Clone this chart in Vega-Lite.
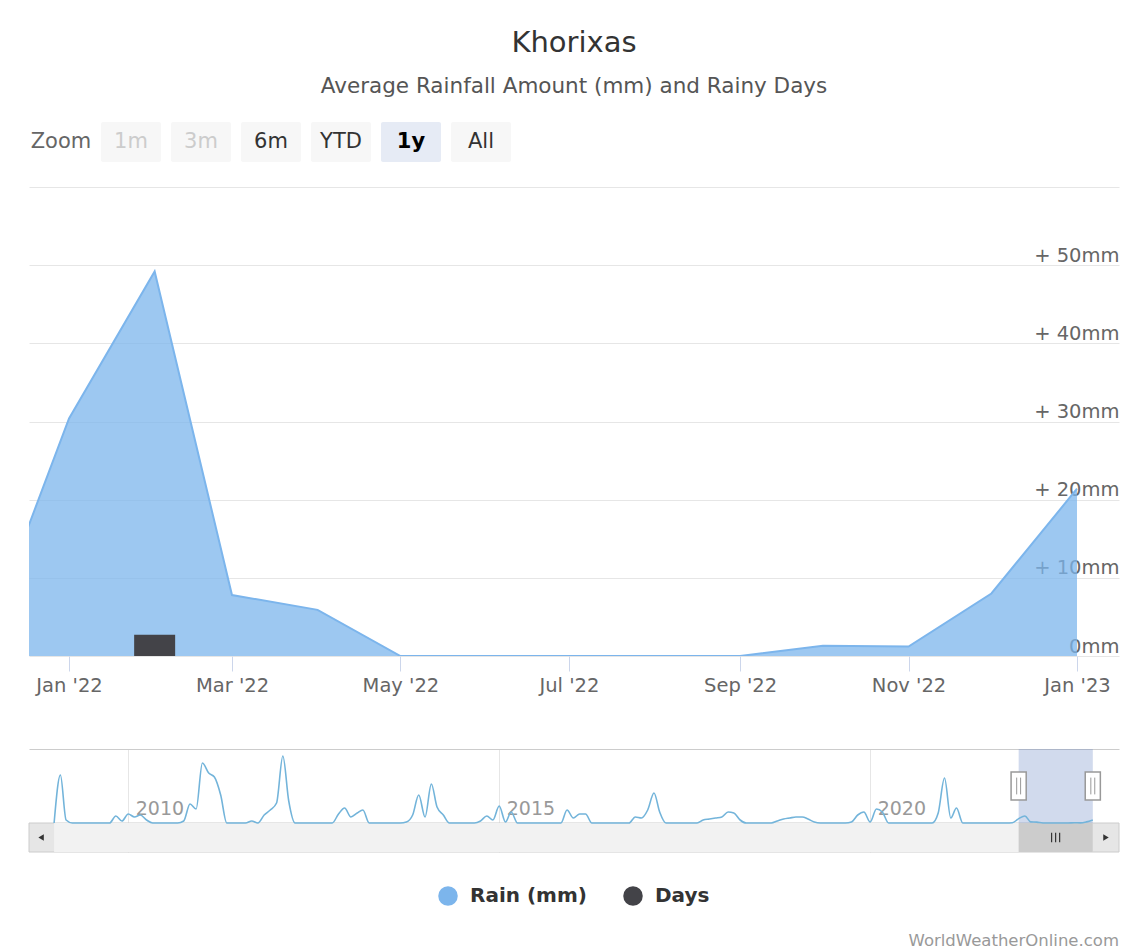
{
  "$schema": "https://vega.github.io/schema/vega-lite/v6.json",
  "padding": {"left": 28, "top": 28, "right": 12, "bottom": 0},
  "background": "white",
  "title": {
    "text": "Khorixas",
    "subtitle": "Average Rainfall Amount (mm) and Rainy Days",
    "anchor": "middle",
    "frame": "bounds",
    "font": "DejaVu Sans",
    "subtitleFont": "DejaVu Sans",
    "fontSize": 29,
    "fontWeight": "normal",
    "color": "#333333",
    "subtitleFontSize": 21.5,
    "subtitleColor": "#555555",
    "subtitlePadding": 18,
    "offset": 25
  },
  "datasets": {
    "buttons": [
      {"label": "Zoom", "state": "label"},
      {"label": "1m", "state": "disabled"},
      {"label": "3m", "state": "disabled"},
      {"label": "6m", "state": "normal"},
      {"label": "YTD", "state": "normal"},
      {"label": "1y", "state": "selected"},
      {"label": "All", "state": "normal"}
    ],
    "monthly": [
      {"date": "2021-12-01", "rain": 1.3, "days": 0},
      {"date": "2022-01-01", "rain": 30.4, "days": 0},
      {"date": "2022-02-01", "rain": 49.2, "days": 1},
      {"date": "2022-03-01", "rain": 7.8, "days": 0},
      {"date": "2022-04-01", "rain": 5.9, "days": 0},
      {"date": "2022-05-01", "rain": 0, "days": 0},
      {"date": "2022-06-01", "rain": 0, "days": 0},
      {"date": "2022-07-01", "rain": 0, "days": 0},
      {"date": "2022-08-01", "rain": 0, "days": 0},
      {"date": "2022-09-01", "rain": 0, "days": 0},
      {"date": "2022-10-01", "rain": 1.3, "days": 0},
      {"date": "2022-11-01", "rain": 1.2, "days": 0},
      {"date": "2022-12-01", "rain": 8.0, "days": 0},
      {"date": "2023-01-01", "rain": 21.4, "days": 0}
    ],
    "ranges": [
      {"part": "track", "start": "2009-01-01", "end": "2023-01-01"},
      {"part": "thumb", "start": "2022-01-01", "end": "2023-01-01"}
    ],
    "series": [
      {"series": "Rain (mm)"},
      {"series": "Days"}
    ],
    "nav": [
      {"date": "2009-01-01", "rain": 0}, {"date": "2009-02-01", "rain": 336}, {"date": "2009-03-01", "rain": 21}, {"date": "2009-04-01", "rain": 0},
      {"date": "2009-05-01", "rain": 0}, {"date": "2009-06-01", "rain": 0}, {"date": "2009-07-01", "rain": 0}, {"date": "2009-08-01", "rain": 0},
      {"date": "2009-09-01", "rain": 0}, {"date": "2009-10-01", "rain": 0}, {"date": "2009-11-01", "rain": 49}, {"date": "2009-12-01", "rain": 14},
      {"date": "2010-01-01", "rain": 63}, {"date": "2010-02-01", "rain": 42}, {"date": "2010-03-01", "rain": 56}, {"date": "2010-04-01", "rain": 21},
      {"date": "2010-05-01", "rain": 0}, {"date": "2010-06-01", "rain": 0}, {"date": "2010-07-01", "rain": 0}, {"date": "2010-08-01", "rain": 0},
      {"date": "2010-09-01", "rain": 0}, {"date": "2010-10-01", "rain": 14}, {"date": "2010-11-01", "rain": 133}, {"date": "2010-12-01", "rain": 98},
      {"date": "2011-01-01", "rain": 420}, {"date": "2011-02-01", "rain": 350}, {"date": "2011-03-01", "rain": 322}, {"date": "2011-04-01", "rain": 196},
      {"date": "2011-05-01", "rain": 0}, {"date": "2011-06-01", "rain": 0}, {"date": "2011-07-01", "rain": 0}, {"date": "2011-08-01", "rain": 0},
      {"date": "2011-09-01", "rain": 14}, {"date": "2011-10-01", "rain": 0}, {"date": "2011-11-01", "rain": 56}, {"date": "2011-12-01", "rain": 91},
      {"date": "2012-01-01", "rain": 140}, {"date": "2012-02-01", "rain": 469}, {"date": "2012-03-01", "rain": 154}, {"date": "2012-04-01", "rain": 0},
      {"date": "2012-05-01", "rain": 0}, {"date": "2012-06-01", "rain": 0}, {"date": "2012-07-01", "rain": 0}, {"date": "2012-08-01", "rain": 0},
      {"date": "2012-09-01", "rain": 0}, {"date": "2012-10-01", "rain": 0}, {"date": "2012-11-01", "rain": 63}, {"date": "2012-12-01", "rain": 105},
      {"date": "2013-01-01", "rain": 42}, {"date": "2013-02-01", "rain": 70}, {"date": "2013-03-01", "rain": 91}, {"date": "2013-04-01", "rain": 0},
      {"date": "2013-05-01", "rain": 0}, {"date": "2013-06-01", "rain": 0}, {"date": "2013-07-01", "rain": 0}, {"date": "2013-08-01", "rain": 0},
      {"date": "2013-09-01", "rain": 0}, {"date": "2013-10-01", "rain": 7}, {"date": "2013-11-01", "rain": 56}, {"date": "2013-12-01", "rain": 196},
      {"date": "2014-01-01", "rain": 42}, {"date": "2014-02-01", "rain": 273}, {"date": "2014-03-01", "rain": 112}, {"date": "2014-04-01", "rain": 56},
      {"date": "2014-05-01", "rain": 0}, {"date": "2014-06-01", "rain": 0}, {"date": "2014-07-01", "rain": 0}, {"date": "2014-08-01", "rain": 0},
      {"date": "2014-09-01", "rain": 0}, {"date": "2014-10-01", "rain": 14}, {"date": "2014-11-01", "rain": 49}, {"date": "2014-12-01", "rain": 21},
      {"date": "2015-01-01", "rain": 119}, {"date": "2015-02-01", "rain": 7}, {"date": "2015-03-01", "rain": 77}, {"date": "2015-04-01", "rain": 0},
      {"date": "2015-05-01", "rain": 0}, {"date": "2015-06-01", "rain": 0}, {"date": "2015-07-01", "rain": 0}, {"date": "2015-08-01", "rain": 0},
      {"date": "2015-09-01", "rain": 0}, {"date": "2015-10-01", "rain": 0}, {"date": "2015-11-01", "rain": 0}, {"date": "2015-12-01", "rain": 91},
      {"date": "2016-01-01", "rain": 35}, {"date": "2016-02-01", "rain": 63}, {"date": "2016-03-01", "rain": 63}, {"date": "2016-04-01", "rain": 0},
      {"date": "2016-05-01", "rain": 0}, {"date": "2016-06-01", "rain": 0}, {"date": "2016-07-01", "rain": 0}, {"date": "2016-08-01", "rain": 0},
      {"date": "2016-09-01", "rain": 0}, {"date": "2016-10-01", "rain": 0}, {"date": "2016-11-01", "rain": 42}, {"date": "2016-12-01", "rain": 35},
      {"date": "2017-01-01", "rain": 91}, {"date": "2017-02-01", "rain": 210}, {"date": "2017-03-01", "rain": 77}, {"date": "2017-04-01", "rain": 0},
      {"date": "2017-05-01", "rain": 0}, {"date": "2017-06-01", "rain": 0}, {"date": "2017-07-01", "rain": 0}, {"date": "2017-08-01", "rain": 0},
      {"date": "2017-09-01", "rain": 0}, {"date": "2017-10-01", "rain": 21}, {"date": "2017-11-01", "rain": 28}, {"date": "2017-12-01", "rain": 35},
      {"date": "2018-01-01", "rain": 42}, {"date": "2018-02-01", "rain": 77}, {"date": "2018-03-01", "rain": 70}, {"date": "2018-04-01", "rain": 21},
      {"date": "2018-05-01", "rain": 0}, {"date": "2018-06-01", "rain": 0}, {"date": "2018-07-01", "rain": 0}, {"date": "2018-08-01", "rain": 0},
      {"date": "2018-09-01", "rain": 0}, {"date": "2018-10-01", "rain": 14}, {"date": "2018-11-01", "rain": 28}, {"date": "2018-12-01", "rain": 35},
      {"date": "2019-01-01", "rain": 42}, {"date": "2019-02-01", "rain": 42}, {"date": "2019-03-01", "rain": 28}, {"date": "2019-04-01", "rain": 7},
      {"date": "2019-05-01", "rain": 0}, {"date": "2019-06-01", "rain": 0}, {"date": "2019-07-01", "rain": 0}, {"date": "2019-08-01", "rain": 0},
      {"date": "2019-09-01", "rain": 0}, {"date": "2019-10-01", "rain": 7}, {"date": "2019-11-01", "rain": 56}, {"date": "2019-12-01", "rain": 77},
      {"date": "2020-01-01", "rain": 7}, {"date": "2020-02-01", "rain": 98}, {"date": "2020-03-01", "rain": 77}, {"date": "2020-04-01", "rain": 0},
      {"date": "2020-05-01", "rain": 0}, {"date": "2020-06-01", "rain": 0}, {"date": "2020-07-01", "rain": 0}, {"date": "2020-08-01", "rain": 0},
      {"date": "2020-09-01", "rain": 0}, {"date": "2020-10-01", "rain": 0}, {"date": "2020-11-01", "rain": 0}, {"date": "2020-12-01", "rain": 70},
      {"date": "2021-01-01", "rain": 315}, {"date": "2021-02-01", "rain": 35}, {"date": "2021-03-01", "rain": 105}, {"date": "2021-04-01", "rain": 0},
      {"date": "2021-05-01", "rain": 0}, {"date": "2021-06-01", "rain": 0}, {"date": "2021-07-01", "rain": 0}, {"date": "2021-08-01", "rain": 0},
      {"date": "2021-09-01", "rain": 0}, {"date": "2021-10-01", "rain": 0}, {"date": "2021-11-01", "rain": 0}, {"date": "2021-12-01", "rain": 1.3},
      {"date": "2022-01-01", "rain": 30.4}, {"date": "2022-02-01", "rain": 49.2}, {"date": "2022-03-01", "rain": 7.8}, {"date": "2022-04-01", "rain": 5.9},
      {"date": "2022-05-01", "rain": 0}, {"date": "2022-06-01", "rain": 0}, {"date": "2022-07-01", "rain": 0}, {"date": "2022-08-01", "rain": 0},
      {"date": "2022-09-01", "rain": 0}, {"date": "2022-10-01", "rain": 1.3}, {"date": "2022-11-01", "rain": 1.2}, {"date": "2022-12-01", "rain": 8.0},
      {"date": "2023-01-01", "rain": 21.4}
    ]
  },
  "vconcat": [
    {
      "width": 484,
      "height": 40,
      "data": {"name": "buttons"},
      "layer": [
        {
          "mark": {"type": "bar", "cornerRadius": 2},
          "encoding": {
            "x": {"field": "label", "type": "nominal", "sort": null, "scale": {"paddingInner": 0.1429, "paddingOuter": 0.0286}, "axis": null},
            "fill": {
              "condition": [
                {"test": "datum.state == 'selected'", "value": "#e6ebf5"},
                {"test": "datum.state == 'label'", "value": "transparent"}
              ],
              "value": "#f7f7f7"
            }
          }
        },
        {
          "transform": [{"filter": "datum.state != 'selected'"}],
          "mark": {"type": "text", "fontSize": 21, "fontWeight": "normal"},
          "encoding": {
            "x": {"field": "label", "type": "nominal", "sort": null, "axis": null},
            "text": {"field": "label"},
            "color": {
              "condition": [
                {"test": "datum.state == 'disabled'", "value": "#cccccc"},
                {"test": "datum.state == 'label'", "value": "#666666"}
              ],
              "value": "#333333"
            }
          }
        },
        {
          "transform": [{"filter": "datum.state == 'selected'"}],
          "mark": {"type": "text", "fontSize": 21, "fontWeight": "bold", "color": "#000000"},
          "encoding": {
            "x": {"field": "label", "type": "nominal", "sort": null, "axis": null},
            "text": {"field": "label"}
          }
        }
      ]
    },
    {
      "spacing": 54,
      "resolve": {"scale": {"color": "independent"}, "legend": {"color": "independent"}},
      "vconcat": [
        {
          "width": 1090,
          "height": 469,
          "data": {"name": "monthly"},
          "layer": [
            {
              "mark": {
                "type": "area",
                "clip": true,
                "color": "#7cb5ec",
                "fillOpacity": 0.75,
                "interpolate": "linear",
                "line": {"color": "#7cb5ec", "strokeWidth": 2}
              },
              "encoding": {
                "x": {
                  "field": "date",
                  "type": "temporal",
                  "scale": {
                    "type": "utc",
                    "padding": 0,
                    "domain": [
                      {"year": 2021, "month": 12, "date": 17, "hours": 12, "utc": true},
                      {"year": 2023, "month": 1, "date": 16, "hours": 5, "utc": true}
                    ]
                  },
                  "axis": {
                    "orient": "bottom",
                    "title": null,
                    "grid": false,
                    "domain": false,
                    "ticks": true,
                    "tickSize": 15,
                    "tickColor": "#ccd6eb",
                    "tickCount": {"interval": "month", "step": 2},
                    "labelExpr": "utcFormat(datum.value, \"%b '%y\")",
                    "labelFontSize": 19.5,
                    "labelColor": "#666666",
                    "labelPadding": 5,
                    "labelFlush": false,
                    "labelOverlap": false
                  }
                },
                "y": {
                  "field": "rain",
                  "type": "quantitative",
                  "scale": {"domain": [0, 60], "nice": false},
                  "axis": {
                    "orient": "right",
                    "title": null,
                    "values": [0, 10, 20, 30, 40, 50],
                    "grid": true,
                    "gridColor": "#e6e6e6",
                    "domain": false,
                    "ticks": false,
                    "tickSize": 0,
                    "labelAlign": "right",
                    "labelBaseline": "bottom",
                    "labelPadding": 0,
                    "labelOffset": 0,
                    "labelFontSize": 19.5,
                    "labelColor": "#666666",
                    "labelExpr": "datum.value == 0 ? '0mm' : '+ ' + datum.value + 'mm'"
                  }
                }
              }
            },
            {
              "mark": {"type": "bar", "color": "#434348", "width": 41, "clip": true},
              "encoding": {
                "x": {
                  "field": "date",
                  "type": "temporal",
                  "axis": {"orient": "top", "title": null, "domain": true, "domainColor": "#e6e6e6", "ticks": false, "labels": false, "grid": false}
                },
                "y": {"field": "days", "type": "quantitative", "scale": {"domain": [0, 22], "nice": false}, "axis": null}
              }
            }
          ],
          "resolve": {"scale": {"y": "independent"}, "axis": {"x": "independent", "y": "independent"}}
        },
        {
          "width": 1090,
          "height": 103,
          "title": {
            "text": "WorldWeatherOnline.com",
            "orient": "bottom",
            "anchor": "end",
            "frame": "group",
            "fontSize": 16.5,
            "fontWeight": "normal",
            "color": "#999999",
            "offset": 27
          },
          "layer": [
            {
              "data": {"name": "ranges"},
              "transform": [{"filter": "datum.part == 'track'"}],
              "mark": {"type": "rect", "fill": "#e6e6e6", "stroke": "#cccccc", "strokeWidth": 1},
              "encoding": {
                "y": {"datum": -203, "type": "quantitative", "scale": {"domain": [-203, 518], "nice": false, "zero": false}, "axis": null},
                "y2": {"datum": 0}
              }
            },
            {
              "data": {"name": "ranges"},
              "transform": [{"filter": "datum.part == 'track'"}],
              "mark": {"type": "rect", "fill": "#f2f2f2"},
              "encoding": {
                "x": {"field": "start", "type": "temporal", "axis": null},
                "x2": {"field": "end"},
                "y": {"datum": -203, "type": "quantitative", "axis": null},
                "y2": {"datum": 0}
              }
            },
            {
              "data": {"name": "ranges"},
              "transform": [{"filter": "datum.part == 'thumb'"}],
              "mark": {"type": "rect", "fill": "#cccccc"},
              "encoding": {
                "x": {"field": "start", "type": "temporal", "axis": null},
                "x2": {"field": "end"},
                "y": {"datum": -203, "type": "quantitative", "axis": null},
                "y2": {"datum": 0}
              }
            },
            {
              "data": {"name": "ranges"},
              "transform": [{"filter": "datum.part == 'thumb'"}],
              "mark": {"type": "point", "shape": "M-0.67,-0.8V0.8M0,-0.8V0.8M0.67,-0.8V0.8", "size": 144, "stroke": "#333333", "strokeWidth": 1.2, "filled": false, "opacity": 1},
              "encoding": {
                "x": {"datum": {"year": 2022, "month": 7, "date": 2, "utc": true}, "type": "temporal", "axis": null},
                "y": {"datum": -101.5, "type": "quantitative", "axis": null}
              }
            },
            {
              "data": {"name": "ranges"},
              "transform": [{"filter": "datum.part == 'track'"}],
              "mark": {"type": "point", "shape": "triangle-left", "size": 40, "fill": "#333333", "filled": true, "opacity": 1},
              "encoding": {
                "x": {"datum": {"year": 2008, "month": 10, "date": 29, "utc": true}, "type": "temporal", "axis": null},
                "y": {"datum": -101.5, "type": "quantitative", "axis": null}
              }
            },
            {
              "data": {"name": "ranges"},
              "transform": [{"filter": "datum.part == 'track'"}],
              "mark": {"type": "point", "shape": "triangle-right", "size": 40, "fill": "#333333", "filled": true, "opacity": 1},
              "encoding": {
                "x": {"datum": {"year": 2023, "month": 3, "date": 7, "utc": true}, "type": "temporal", "axis": null},
                "y": {"datum": -101.5, "type": "quantitative", "axis": null}
              }
            },
            {
              "data": {"name": "ranges"},
              "transform": [{"filter": "datum.part == 'thumb'"}],
              "mark": {"type": "rect", "fill": "#6685c2", "opacity": 0.3},
              "encoding": {
                "x": {
                  "field": "start",
                  "type": "temporal",
                  "axis": {"orient": "top", "title": null, "domain": true, "domainColor": "#cccccc", "ticks": false, "labels": false, "grid": false}
                },
                "x2": {"field": "end"},
                "y": {"datum": 0, "type": "quantitative", "axis": null},
                "y2": {"datum": 518}
              }
            },
            {
              "data": {"name": "nav"},
              "mark": {"type": "line", "interpolate": "monotone", "color": "#73b4da", "strokeWidth": 1.6},
              "encoding": {
                "x": {
                  "field": "date",
                  "type": "temporal",
                  "scale": {
                    "type": "utc",
                    "padding": 0,
                    "domain": [
                      {"year": 2008, "month": 8, "date": 30, "hours": 10, "utc": true},
                      {"year": 2023, "month": 5, "date": 10, "utc": true}
                    ]
                  },
                  "axis": {
                    "orient": "bottom",
                    "title": null,
                    "grid": true,
                    "gridColor": "#e6e6e6",
                    "domain": false,
                    "ticks": false,
                    "tickSize": 0,
                    "tickCount": {"interval": "year", "step": 5},
                    "labelExpr": "utcFormat(datum.value, '%Y')",
                    "labelAlign": "left",
                    "labelBaseline": "bottom",
                    "labelPadding": -34,
                    "labelOffset": 7,
                    "labelFontSize": 19,
                    "labelColor": "#999999",
                    "labelFlush": false,
                    "labelOverlap": false
                  }
                },
                "y": {"field": "rain", "type": "quantitative", "axis": null}
              }
            },
            {
              "data": {"name": "ranges"},
              "transform": [{"filter": "datum.part == 'thumb'"}],
              "mark": {"type": "point", "shape": "M-0.54,-1H0.54V1H-0.54Z", "size": 784, "fill": "#ffffff", "stroke": "#999999", "strokeWidth": 1.5, "filled": true, "opacity": 1},
              "encoding": {
                "x": {"field": "start", "type": "temporal", "axis": null},
                "y": {"datum": 259, "type": "quantitative", "axis": null}
              }
            },
            {
              "data": {"name": "ranges"},
              "transform": [{"filter": "datum.part == 'thumb'"}],
              "mark": {"type": "point", "shape": "M-0.54,-1H0.54V1H-0.54Z", "size": 784, "fill": "#ffffff", "stroke": "#999999", "strokeWidth": 1.5, "filled": true, "opacity": 1},
              "encoding": {
                "x": {"field": "end", "type": "temporal", "axis": null},
                "y": {"datum": 259, "type": "quantitative", "axis": null}
              }
            },
            {
              "data": {"name": "ranges"},
              "transform": [{"filter": "datum.part == 'thumb'"}],
              "mark": {"type": "point", "shape": "M-0.14,-0.6V0.6M0.14,-0.6V0.6", "size": 784, "stroke": "#999999", "strokeWidth": 1, "filled": false, "opacity": 1},
              "encoding": {
                "x": {"field": "start", "type": "temporal", "axis": null},
                "y": {"datum": 259, "type": "quantitative", "axis": null}
              }
            },
            {
              "data": {"name": "ranges"},
              "transform": [{"filter": "datum.part == 'thumb'"}],
              "mark": {"type": "point", "shape": "M-0.14,-0.6V0.6M0.14,-0.6V0.6", "size": 784, "stroke": "#999999", "strokeWidth": 1, "filled": false, "opacity": 1},
              "encoding": {
                "x": {"field": "end", "type": "temporal", "axis": null},
                "y": {"datum": 259, "type": "quantitative", "axis": null}
              }
            },
            {
              "data": {"name": "series"},
              "mark": {"type": "point", "filled": true, "opacity": 0},
              "encoding": {
                "color": {
                  "field": "series",
                  "type": "nominal",
                  "sort": null,
                  "scale": {"domain": ["Rain (mm)", "Days"], "range": ["#7cb5ec", "#434348"]},
                  "legend": {
                    "orient": "bottom",
                    "direction": "horizontal",
                    "title": null,
                    "symbolType": "circle",
                    "symbolSize": 380,
                    "symbolOpacity": 1,
                    "symbolStrokeWidth": 0,
                    "labelFontSize": 20,
                    "labelFontWeight": "bold",
                    "labelColor": "#333333",
                    "columnPadding": 36,
                    "labelOffset": 12,
                    "offset": 34,
                    "padding": 0
                  }
                }
              }
            }
          ],
          "resolve": {"axis": {"x": "independent"}}
        }
      ]
    }
  ],
  "spacing": 25,
  "config": {
    "font": "DejaVu Sans",
    "view": {"stroke": null},
    "legend": {"layout": {"bottom": {"anchor": "middle"}}}
  }
}
